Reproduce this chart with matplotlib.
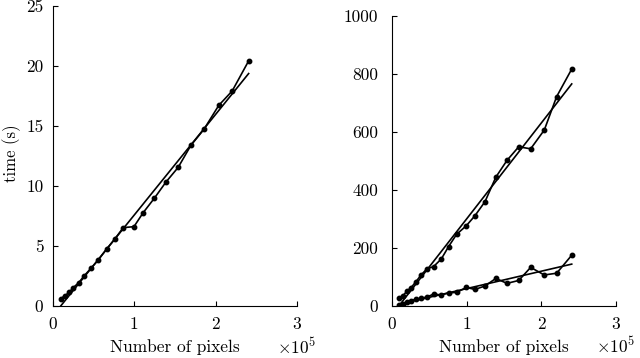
import numpy as np
import matplotlib
matplotlib.use("Agg")
import matplotlib.pyplot as plt
from matplotlib.ticker import FuncFormatter

plt.rcParams["font.family"] = "serif"
plt.rcParams["font.serif"] = ["cmr10", "DejaVu Serif"]
plt.rcParams["mathtext.fontset"] = "cm"
plt.rcParams["axes.unicode_minus"] = False

# image sizes (number of pixels)
pixels = np.array([9500, 14800, 20000, 25000, 31600, 38600, 46700, 55700, 66000,
                   75800, 86500, 99600, 111000, 124600, 139000, 154000, 169700,
                   185700, 204000, 220500, 240700])

# left panel: time (s)
time_a = [0.61, 0.86, 1.14, 1.53, 1.94, 2.53, 3.14, 3.83, 4.75, 5.56, 6.53,
          6.61, 7.78, 8.97, 10.33, 11.55, 13.39, 14.72, 16.72, 17.92, 20.42]

# right panel: two methods
time_b = [26, 36, 51, 62, 82, 106, 128, 136, 162, 205, 247, 277, 311, 360,
          444, 502, 549, 542, 607, 722, 817]
time_c = [3, 7, 13, 18, 23, 26, 31, 41, 38, 45, 47, 64, 57, 69, 95, 78, 88,
          133, 107, 113, 175]

FS = 12.5


def draw(ax, series, ymax, yticks, ypad):
    for y in series:
        y = np.asarray(y, dtype=float)
        ax.plot(pixels, y, "-o", color="black", lw=1.2, ms=3.2)
        k, b = np.polyfit(pixels, y, 1)
        ax.plot(pixels, k * pixels + b, "-", color="black", lw=1.2)
    ax.set_xlim(0, 3e5)
    ax.set_ylim(0, ymax)
    ax.set_xticks([0, 1e5, 2e5, 3e5])
    ax.set_yticks(yticks)
    ax.xaxis.set_major_formatter(FuncFormatter(lambda v, p: "%g" % (v / 1e5)))
    ax.tick_params(direction="in", length=3.5, labelsize=FS)
    ax.tick_params(axis="x", pad=8)
    ax.tick_params(axis="y", pad=ypad)
    for s in ("top", "right"):
        ax.spines[s].set_visible(False)
    ax.set_xlabel("Number of pixels", fontsize=FS, labelpad=5)
    ax.text(1.0, -0.135, r"$\times10^5$", transform=ax.transAxes,
            fontsize=FS, ha="center", va="center")


fig = plt.figure(figsize=(6.4, 3.58), dpi=100)
ax1 = fig.add_axes([0.0828, 0.1453, 0.381, 0.838])
ax2 = fig.add_axes([0.6125, 0.1453, 0.35, 0.810])

draw(ax1, [time_a], 25, [0, 5, 10, 15, 20, 25], 7)
ax1.set_ylabel("time (s)", fontsize=12)
ax1.yaxis.set_label_coords(-0.132, 0.51)
draw(ax2, [time_b, time_c], 1000, [0, 200, 400, 600, 800, 1000], 10)

fig.savefig("out.png", dpi=100)
